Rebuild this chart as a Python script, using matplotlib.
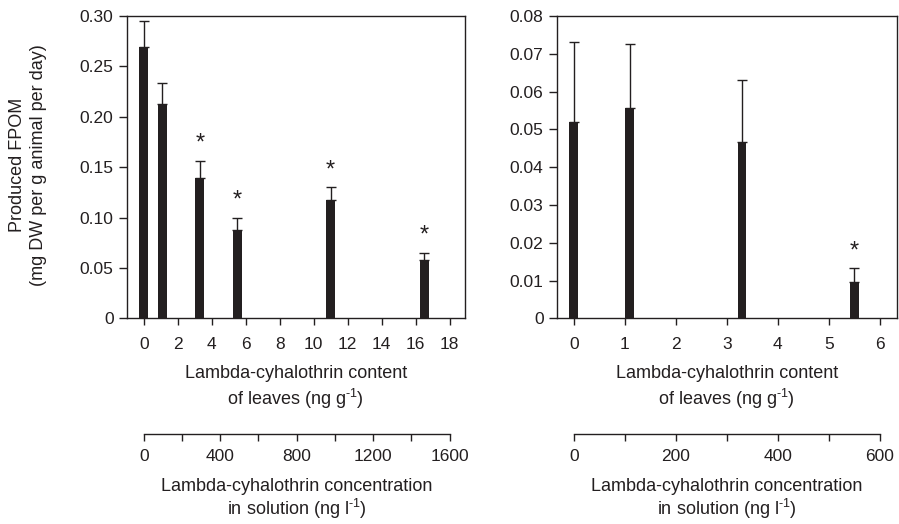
#! /usr/bin/env python3
"""
FPOM production vs lambda-cyhalothrin content, two panels with solution scale
"""
import matplotlib
matplotlib.use('Agg')
import matplotlib.pyplot as plt

plt.rcParams['font.family'] = ['Liberation Sans', 'DejaVu Sans']
plt.rcParams['mathtext.fontset'] = 'custom'
plt.rcParams['mathtext.rm'] = 'Liberation Sans'
plt.rcParams['mathtext.it'] = 'Liberation Sans'
plt.rcParams['font.size'] = 12.5

INK = '#231f20'
LABEL_SIZE = 13

# left panel
left_x = [0, 1.1, 3.3, 5.5, 11.0, 16.5]
left_mean = [0.269, 0.213, 0.139, 0.088, 0.117, 0.058]
left_err = [0.026, 0.021, 0.017, 0.012, 0.013, 0.007]
left_sig = [False, False, True, True, True, True]
left_ticks = [0, 2, 4, 6, 8, 10, 12, 14, 16, 18]
left_yticks = [0, 0.05, 0.10, 0.15, 0.20, 0.25, 0.30]
left_ylabels = ['0', '0.05', '0.10', '0.15', '0.20', '0.25', '0.30']
left_sol_ticks = [0, 200, 400, 600, 800, 1000, 1200, 1400, 1600]
left_sol_labels = ['0', '', '400', '', '800', '', '1200', '', '1600']

# right panel
right_x = [0, 1.1, 3.3, 5.5]
right_mean = [0.052, 0.0556, 0.0467, 0.0095]
right_err = [0.021, 0.017, 0.0164, 0.0037]
right_sig = [False, False, False, True]
right_ticks = [0, 1, 2, 3, 4, 5, 6]
right_yticks = [0, 0.01, 0.02, 0.03, 0.04, 0.05, 0.06, 0.07, 0.08]
right_ylabels = ['0', '0.01', '0.02', '0.03', '0.04', '0.05', '0.06', '0.07', '0.08']
right_sol_ticks = [0, 100, 200, 300, 400, 500, 600]
right_sol_labels = ['0', '', '200', '', '400', '', '600']

W, H = 899, 524
fig = plt.figure(figsize=(W / 100, H / 100), dpi=100)


def px(x0, y0, x1, y1):
    return [x0 / W, 1 - y1 / H, (x1 - x0) / W, (y1 - y0) / H]


def style(ax):
    for s in ax.spines.values():
        s.set_color(INK)
        s.set_linewidth(1.0)
    ax.tick_params(colors=INK, labelcolor=INK, length=5, width=1.0, direction='out')


def panel(rect, xs, means, errs, sig, width, xlim, ylim, ticks, yticks, ylabels, star_off):
    ax = fig.add_axes(rect)
    style(ax)
    ax.tick_params(axis='y', length=6)
    ax.bar(xs, means, width=width, color=INK, zorder=2)
    ax.errorbar(xs, means, yerr=[[0] * len(errs), errs], fmt='none',
                ecolor=INK, elinewidth=1.0, capsize=3.5, capthick=1.0, zorder=1)
    for x, m, e, s in zip(xs, means, errs, sig):
        if s:
            ax.text(x, m + e + star_off, '*', ha='center', va='center',
                    fontsize=17, color=INK)
    ax.set_xlim(*xlim)
    ax.set_ylim(*ylim)
    ax.set_xticks(ticks)
    ax.set_yticks(yticks)
    ax.set_yticklabels(ylabels)
    ax.tick_params(axis='x', pad=8.5)
    ax.set_xlabel('Lambda-cyhalothrin content\nof leaves (ng g$^{\\text{-1}}$)',
                  color=INK, labelpad=9, linespacing=1.3, fontsize=LABEL_SIZE)
    return ax


def sol_axis(rect, ticks, labels):
    ax = fig.add_axes(rect)
    for k in ['top', 'left', 'right']:
        ax.spines[k].set_visible(False)
    style(ax)
    ax.patch.set_visible(False)
    ax.set_yticks([])
    ax.set_xlim(ticks[0], ticks[-1])
    ax.set_xticks(ticks)
    ax.set_xticklabels(labels)
    ax.tick_params(axis='x', pad=6)
    ax.set_xlabel('Lambda-cyhalothrin concentration\nin solution (ng l$^{\\text{-1}}$)',
                  color=INK, labelpad=10, linespacing=1.1, fontsize=LABEL_SIZE)
    return ax


panel(px(126.7, 16, 465, 318.3), left_x, left_mean, left_err, left_sig, 0.51,
      (-1.0, 18.9), (0, 0.30), left_ticks, left_yticks, left_ylabels, 0.017)
panel(px(556.7, 16, 896.7, 318.3), right_x, right_mean, right_err, right_sig, 0.17,
      (-1 / 3, 6 + 1 / 3), (0, 0.08), right_ticks, right_yticks, right_ylabels, 0.0045)

sol_axis(px(143.7, 433, 449.7, 434), left_sol_ticks, left_sol_labels)
sol_axis(px(573.7, 433, 879.7, 434), right_sol_ticks, right_sol_labels)

fig.text(28 / W, 1 - 165 / H, 'Produced FPOM\n(mg DW per g animal per day)',
         rotation=90, ha='center', va='center', color=INK, linespacing=1.3,
         fontsize=LABEL_SIZE)

fig.savefig('out.png', dpi=100)
